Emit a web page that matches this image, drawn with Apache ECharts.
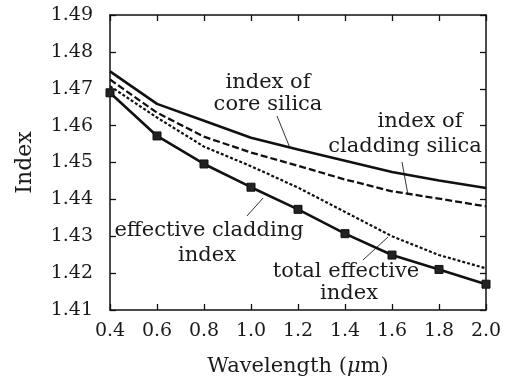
<!DOCTYPE html>
<html>
<head>
<meta charset="utf-8">
<script src="https://cdn.jsdelivr.net/npm/echarts@6/dist/echarts.min.js"></script>
<style>
  html, body { margin: 0; padding: 0; background: #fff; }
  #main { width: 507px; height: 382px; }
</style>
</head>
<body>
<div id="main"></div>
<script>
// wavelength (um)
var wavelength = [0.4, 0.6, 0.8, 1.0, 1.2, 1.4, 1.6, 1.8, 2.0];
// refractive indices
var coreSilica = [1.4747, 1.4659, 1.4613, 1.4567, 1.4535, 1.4505, 1.4474, 1.4451, 1.4431];
var claddingSilica = [1.4725, 1.4635, 1.4570, 1.4527, 1.4491, 1.4454, 1.4422, 1.4402, 1.4381];
var effCladding = [1.4707, 1.4622, 1.4543, 1.4490, 1.4432, 1.4366, 1.4300, 1.4249, 1.4213];
var totalEffective = [1.4689, 1.4572, 1.4496, 1.4433, 1.4373, 1.4307, 1.4249, 1.4210, 1.4170];

var chart = echarts.init(document.getElementById("main"));
var font = "DejaVu Serif";
var ink = "#111";

function pairs(ys) {
  return wavelength.map(function (x, i) { return [x, ys[i]]; });
}

var axisLine = { show: true, lineStyle: { color: ink, width: 1.5 } };
var tick = { show: true, inside: true, length: 6, lineStyle: { color: ink, width: 1.3 } };

function txt(x, y, s) {
  return {
    type: "text", x: x, y: y,
    style: { text: s, font: "21px '" + font + "'", fill: "#1a1a1a", align: "center", verticalAlign: "middle" }
  };
}
function lead(x1, y1, x2, y2) {
  return { type: "line", shape: { x1: x1, y1: y1, x2: x2, y2: y2 }, style: { stroke: "#333", lineWidth: 1 } };
}

var option = {
  animation: false,
  grid: { left: 110, right: 21, top: 15, bottom: 70 },
  xAxis: [
    {
      type: "value", min: 0.4, max: 2.0, interval: 0.2,
      name: "Wavelength ({i|μ}m)",
      nameLocation: "middle", nameGap: 46,
      nameTextStyle: {
        fontFamily: font, fontSize: 21, color: "#1a1a1a",
        rich: { i: { fontFamily: font, fontSize: 21, fontStyle: "italic", color: "#1a1a1a" } }
      },
      axisLine: axisLine, axisTick: tick, splitLine: { show: false },
      axisLabel: {
        margin: 12, fontFamily: font, fontSize: 19, color: "#1a1a1a",
        formatter: function (v) { return v.toFixed(1); }
      }
    },
    {
      type: "value", position: "top", min: 0.4, max: 2.0, interval: 0.2,
      axisLine: axisLine, axisTick: tick, axisLabel: { show: false }, splitLine: { show: false }
    }
  ],
  yAxis: [
    {
      type: "value", min: 1.41, max: 1.49, interval: 0.01,
      name: "Index", nameLocation: "middle", nameGap: 74, nameRotate: 90,
      nameTextStyle: { fontFamily: font, fontSize: 22, color: "#1a1a1a" },
      axisLine: axisLine, axisTick: tick, splitLine: { show: false },
      axisLabel: {
        margin: 17, fontFamily: font, fontSize: 19, color: "#1a1a1a",
        formatter: function (v) { return v.toFixed(2); }
      }
    },
    {
      type: "value", position: "right", min: 1.41, max: 1.49, interval: 0.01,
      axisLine: axisLine, axisTick: tick, axisLabel: { show: false }, splitLine: { show: false }
    }
  ],
  series: [
    {
      name: "index of core silica", type: "line", data: pairs(coreSilica),
      symbol: "none", lineStyle: { color: ink, width: 2.6 }
    },
    {
      name: "index of cladding silica", type: "line", data: pairs(claddingSilica),
      symbol: "none", lineStyle: { color: ink, width: 2.3, type: [7, 3] }
    },
    {
      name: "effective cladding index", type: "line", data: pairs(effCladding),
      symbol: "none", lineStyle: { color: ink, width: 2.2, type: [3, 2] }
    },
    {
      name: "total effective index", type: "line", data: pairs(totalEffective),
      symbol: "rect", symbolSize: 8, showAllSymbol: true,
      itemStyle: { color: "#222", borderColor: ink, borderWidth: 1 },
      lineStyle: { color: ink, width: 2.6 }
    }
  ],
  graphic: [
    txt(268, 83, "index of"),
    txt(268, 105, "core silica"),
    lead(277, 116, 290, 148),
    txt(420, 122, "index of"),
    txt(405, 147, "cladding silica"),
    lead(402, 162, 408, 195),
    txt(209, 231, "effective cladding"),
    txt(207, 256, "index"),
    lead(247, 216, 263, 198),
    txt(346, 272, "total effective"),
    txt(349, 294, "index"),
    lead(363, 260, 388, 237)
  ]
};
chart.setOption(option);
</script>
</body>
</html>
